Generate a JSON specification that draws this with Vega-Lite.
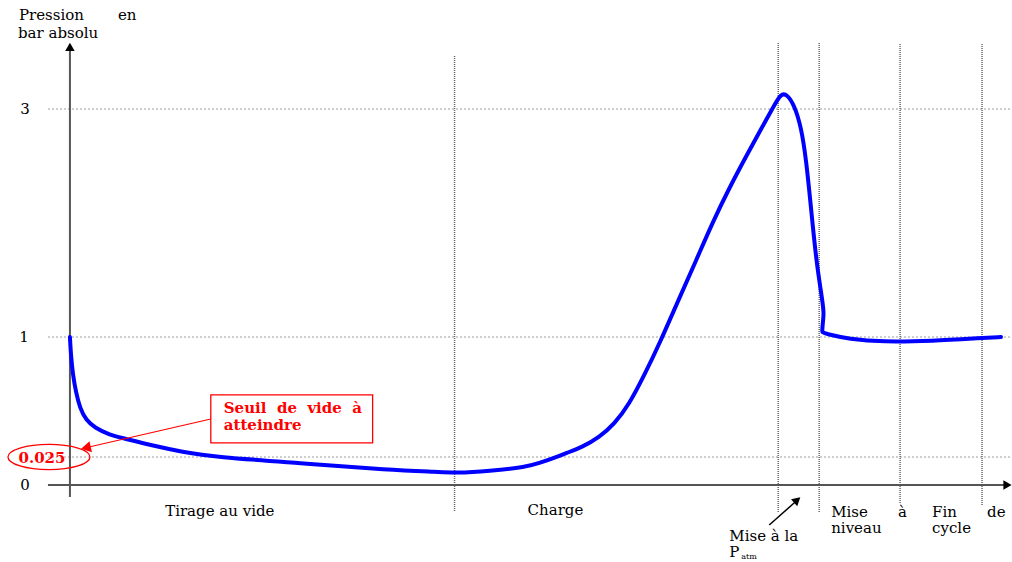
{
  "$schema": "https://vega.github.io/schema/vega-lite/v6.json",
  "width": 1012,
  "height": 562,
  "padding": 0,
  "autosize": {"type": "fit", "contains": "padding"},
  "background": "white",
  "config": {"view": {"stroke": null}},
  "encoding": {
    "x": {"field": "t", "type": "quantitative", "axis": null,
          "scale": {"domain": [-7, 94.2], "nice": false, "zero": false}},
    "y": {"field": "v", "type": "quantitative", "axis": null,
          "scale": {"domain": [-1, 0, 0.025, 1, 3, 4], "range": [562, 485, 457, 337, 109, 0], "nice": false, "zero": false}}
  },
  "layer": [
    {
      "data": {"values": [
        {"t": -2.2, "t2": 94.2, "v": 3},
        {"t": -2.2, "t2": 94.2, "v": 1},
        {"t": -2.2, "t2": 94.2, "v": 0.025}
      ]},
      "mark": {"type": "rule", "color": "#9a9a9a", "strokeWidth": 1, "strokeDash": [2, 2]},
      "encoding": {"x2": {"field": "t2"}}
    },
    {
      "data": {"values": [
        {"t": 38.5, "v": -0.338, "v2": 3.486},
        {"t": 70.9, "v": -0.351, "v2": 3.606},
        {"t": 75.0, "v": -0.351, "v2": 3.606},
        {"t": 83.1, "v": -0.234, "v2": 3.606},
        {"t": 91.3, "v": -0.26, "v2": 3.606}
      ]},
      "mark": {"type": "rule", "color": "#666666", "strokeWidth": 1.5, "strokeDash": [1, 1]},
      "encoding": {"y2": {"field": "v2"}}
    },
    {
      "data": {"values": [
        {"t": -2.2, "t2": 93.6, "v": 0, "v2": 0},
        {"t": 0, "t2": 0, "v": -0.156, "v2": 3.55}
      ]},
      "mark": {"type": "rule", "color": "#555555", "strokeWidth": 2},
      "encoding": {"x2": {"field": "t2"}, "y2": {"field": "v2"}}
    },
    {
      "data": {"values": [
        {"t": 0, "v": 3.57, "shape": "triangle-up"},
        {"t": 93.85, "v": 0, "shape": "triangle-right"}
      ]},
      "mark": {"type": "point", "filled": true, "color": "#000000", "size": 90, "opacity": 1},
      "encoding": {"shape": {"field": "shape", "type": "nominal", "scale": null, "legend": null}}
    },
    {
      "data": {"values": [
        {"i": 0, "t": 0, "v": 1.0},
        {"i": 1, "t": 0, "v": 1.0},
        {"i": 2, "t": 0.1, "v": 0.854},
        {"i": 3, "t": 0.3, "v": 0.691},
        {"i": 4, "t": 0.6, "v": 0.553},
        {"i": 5, "t": 1.0, "v": 0.423},
        {"i": 6, "t": 1.6, "v": 0.326},
        {"i": 7, "t": 2.5, "v": 0.261},
        {"i": 8, "t": 4.0, "v": 0.204},
        {"i": 9, "t": 5.3, "v": 0.179},
        {"i": 10, "t": 8.0, "v": 0.1225},
        {"i": 11, "t": 11.3, "v": 0.0656},
        {"i": 12, "t": 14.5, "v": 0.025},
        {"i": 13, "t": 23, "v": 0.0196},
        {"i": 14, "t": 32, "v": 0.0134},
        {"i": 15, "t": 37, "v": 0.0116},
        {"i": 16, "t": 38.5, "v": 0.0107},
        {"i": 17, "t": 42, "v": 0.0125},
        {"i": 18, "t": 45.7, "v": 0.0161},
        {"i": 19, "t": 47, "v": 0.0196},
        {"i": 20, "t": 48.7, "v": 0.025},
        {"i": 21, "t": 49.7, "v": 0.0575},
        {"i": 22, "t": 51.3, "v": 0.106},
        {"i": 23, "t": 53, "v": 0.1875},
        {"i": 24, "t": 54.5, "v": 0.293},
        {"i": 25, "t": 56, "v": 0.456},
        {"i": 26, "t": 57.5, "v": 0.691},
        {"i": 27, "t": 59, "v": 0.943},
        {"i": 28, "t": 61, "v": 1.342},
        {"i": 29, "t": 62.7, "v": 1.675},
        {"i": 30, "t": 64.3, "v": 2.0},
        {"i": 31, "t": 66, "v": 2.307},
        {"i": 32, "t": 67.7, "v": 2.588},
        {"i": 33, "t": 69.3, "v": 2.842},
        {"i": 34, "t": 70.3, "v": 3.0},
        {"i": 35, "t": 71.2, "v": 3.15},
        {"i": 36, "t": 71.8, "v": 3.13},
        {"i": 37, "t": 72.5, "v": 3.037},
        {"i": 38, "t": 73.2, "v": 2.842},
        {"i": 39, "t": 73.7, "v": 2.553},
        {"i": 40, "t": 74.2, "v": 2.114},
        {"i": 41, "t": 74.7, "v": 1.675},
        {"i": 42, "t": 75.2, "v": 1.386},
        {"i": 43, "t": 75.5, "v": 1.211},
        {"i": 44, "t": 75.35, "v": 1.123},
        {"i": 45, "t": 75.3, "v": 1.044},
        {"i": 46, "t": 75.3, "v": 1.044},
        {"i": 47, "t": 75.7, "v": 1.026},
        {"i": 48, "t": 78, "v": 0.984},
        {"i": 49, "t": 81.3, "v": 0.959},
        {"i": 50, "t": 86.3, "v": 0.9675},
        {"i": 51, "t": 91.3, "v": 0.992},
        {"i": 52, "t": 93.2, "v": 1.0}
      ]},
      "mark": {"type": "line", "color": "#0000ff", "strokeWidth": 4, "interpolate": "basis", "strokeCap": "round", "strokeJoin": "round"},
      "encoding": {"order": {"field": "i", "type": "quantitative"}}
    },
    {
      "data": {"values": [{"t": 14.1, "t2": 30.3, "v": 0.529, "v2": 0.139}]},
      "mark": {"type": "rect", "fill": "white", "stroke": "#ff0000", "strokeWidth": 1.3},
      "encoding": {"x2": {"field": "t2"}, "y2": {"field": "v2"}}
    },
    {
      "data": {"values": [{"t": 14.1, "t2": 1.8, "v": 0.334, "v2": 0.104}]},
      "mark": {"type": "rule", "color": "#ff0000", "strokeWidth": 1.2},
      "encoding": {"x2": {"field": "t2"}, "y2": {"field": "v2"}}
    },
    {
      "data": {"values": [{"t": 1.6, "v": 0.1, "angle": 167.5}]},
      "mark": {"type": "point", "shape": "triangle-right", "filled": true, "color": "#ff0000", "size": 130, "opacity": 1},
      "encoding": {"angle": {"field": "angle", "type": "quantitative", "scale": null}}
    },
    {
      "data": {"values": [{"t": -2.1, "v": 0.025}]},
      "mark": {"type": "point", "shape": "M-1,0A1,0.31,0,1,0,1,0A1,0.31,0,1,0,-1,0Z", "filled": false, "color": "#ff0000", "strokeWidth": 1.3, "size": 6724, "opacity": 1}
    },
    {
      "data": {"values": [
        {"t": -2.8, "v": 0.024, "label": "0.025", "align": "center"},
        {"t": 15.4, "v": 0.423, "label": "Seuil\u00a0 de\u00a0 vide\u00a0 à", "align": "left"},
        {"t": 15.4, "v": 0.285, "label": "atteindre", "align": "left"}
      ]},
      "mark": {"type": "text", "font": "DejaVu Serif", "fontSize": 15, "fontWeight": "bold", "color": "#ff0000", "baseline": "middle", "align": {"expr": "datum.align"}},
      "encoding": {"text": {"field": "label"}}
    },
    {
      "data": {"values": [{"t": 70.0, "t2": 72.6, "v": -0.519, "v2": -0.221}]},
      "mark": {"type": "rule", "color": "#000000", "strokeWidth": 1.5},
      "encoding": {"x2": {"field": "t2"}, "y2": {"field": "v2"}}
    },
    {
      "data": {"values": [{"t": 72.8, "v": -0.195, "angle": 319}]},
      "mark": {"type": "point", "shape": "triangle-right", "filled": true, "color": "#000000", "size": 90, "opacity": 1},
      "encoding": {"angle": {"field": "angle", "type": "quantitative", "scale": null}}
    },
    {
      "data": {"values": [
        {"t": -5.1, "v": 3.862, "label": "Pression", "align": "left", "fs": 15},
        {"t": 4.8, "v": 3.862, "label": "en", "align": "left", "fs": 15},
        {"t": -5.2, "v": 3.697, "label": "bar absolu", "align": "left", "fs": 15},
        {"t": -4.5, "v": 3, "label": "3", "align": "center", "fs": 15},
        {"t": -4.6, "v": 1, "label": "1", "align": "center", "fs": 15},
        {"t": -4.5, "v": 0, "label": "0", "align": "center", "fs": 15},
        {"t": 15, "v": -0.338, "label": "Tirage au vide", "align": "center", "fs": 15},
        {"t": 48.6, "v": -0.325, "label": "Charge", "align": "center", "fs": 15},
        {"t": 76.2, "v": -0.351, "label": "Mise", "align": "left", "fs": 15},
        {"t": 76.2, "v": -0.558, "label": "niveau", "align": "left", "fs": 15},
        {"t": 82.9, "v": -0.351, "label": "à", "align": "left", "fs": 15},
        {"t": 86.3, "v": -0.351, "label": "Fin", "align": "left", "fs": 15},
        {"t": 86.3, "v": -0.558, "label": "cycle", "align": "left", "fs": 15},
        {"t": 91.8, "v": -0.351, "label": "de", "align": "left", "fs": 15},
        {"t": 66, "v": -0.66, "label": "Mise à la", "align": "left", "fs": 15},
        {"t": 66, "v": -0.87, "label": "P", "align": "left", "fs": 15},
        {"t": 67.2, "v": -0.93, "label": "atm", "align": "left", "fs": 8}
      ]},
      "mark": {"type": "text", "font": "DejaVu Serif", "color": "#000000", "baseline": "middle", "align": {"expr": "datum.align"}, "fontSize": {"expr": "datum.fs"}},
      "encoding": {"text": {"field": "label"}}
    }
  ]
}
